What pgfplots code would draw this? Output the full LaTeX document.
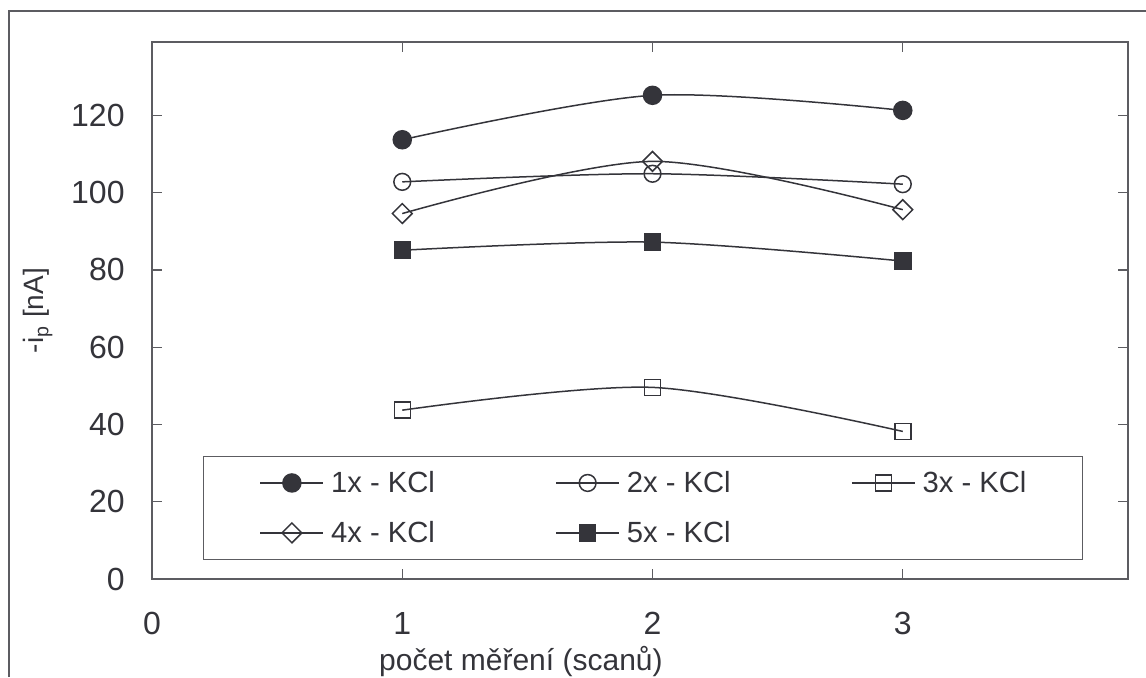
\documentclass[border=0pt]{standalone}
\usepackage{fontspec}
\setmainfont{Liberation Sans}
\usepackage{pgfplots}
\pgfplotsset{compat=1.18}

\definecolor{ink}{RGB}{52,52,58}
\definecolor{framec}{RGB}{92,92,97}

\begin{document}
\begin{tikzpicture}[x=1pt,y=1pt]
% page area, origin at the lower-left corner of the plot box
\path[use as bounding box] (-76,-49) rectangle (497,289.5);
% surrounding chart frame
\draw[framec, line width=0.75pt] (-71.5,-49) -- (-71.5,284) -- (497,284);
\begin{axis}[
  at={(0pt,0pt)}, anchor=south west,
  scale only axis, width=488pt, height=268.5pt,
  xmin=0, xmax=3.9, ymin=0, ymax=139,
  xtick={0,1,2,3}, ytick={0,20,...,120},
  tick align=inside, major tick length=5pt,
  axis line style={framec, line width=0.75pt},
  tick style={framec, line width=0.6pt},
  /pgf/number format/assume math mode=true,
  every tick label/.append style={font=\fontsize{16}{19}\selectfont, text=ink, inner sep=0pt},
  yticklabel style={anchor=east, xshift=-13.5pt},
  xticklabel style={anchor=north, yshift=-16.3pt},
  xlabel={počet měření (scanů)},
  xlabel style={at={(axis description cs:0.378,0)}, anchor=base, yshift=-45.5pt,
    font=\fontsize{15}{18}\selectfont, text=ink, inner sep=0pt},
  ylabel={-i\textsubscript{p} [nA]},
  ylabel style={at={(axis description cs:-0.1168,0.5)}, anchor=center,
    font=\fontsize{14}{17}\selectfont, text=ink, inner sep=0pt},
  every axis plot/.append style={ink, line width=0.75pt, smooth, tension=0.5},
  legend columns=3,
  legend cell align=left,
  legend image code/.code={\draw[mark repeat=2, mark phase=2]
    plot coordinates {(0pt,0pt) (15.75pt,0pt) (31.5pt,0pt)};},
  legend style={at={(axis description cs:0.0523,0.0354)}, anchor=south west,
    draw=framec, line width=0.6pt, fill=white,
    font=\fontsize{14.6}{17}\selectfont, text=ink,
    inner xsep=28pt, inner ysep=7.2pt, row sep=12.9pt,
    nodes={inner sep=0pt},
    /tikz/every odd column/.append style={column sep=3.5pt},
    /tikz/every even column/.append style={column sep=60.2pt}},
]
% 1x - KCl
\addplot[mark=*, mark size=4.5pt, mark options={solid, fill=ink}]
  coordinates {(1,113.7) (2,125.2) (3,121.3)};
\addlegendentry{1x - KCl}
% 2x - KCl
\addplot[mark=o, mark size=4.2pt, mark options={solid}]
  coordinates {(1,102.8) (2,104.9) (3,102.2)};
\addlegendentry{2x - KCl}
% 3x - KCl
\addplot[mark=square, mark size=4pt, mark options={solid}]
  coordinates {(1,43.7) (2,49.6) (3,38.2)};
\addlegendentry{3x - KCl}
% 4x - KCl
\addplot[mark=square, mark size=3.5pt, mark options={solid, rotate=45}]
  coordinates {(1,94.6) (2,108.1) (3,95.6)};
\addlegendentry{4x - KCl}
% 5x - KCl
\addplot[mark=square*, mark size=4pt, mark options={solid, fill=ink}]
  coordinates {(1,85.1) (2,87.2) (3,82.3)};
\addlegendentry{5x - KCl}
\end{axis}
\end{tikzpicture}
\end{document}
